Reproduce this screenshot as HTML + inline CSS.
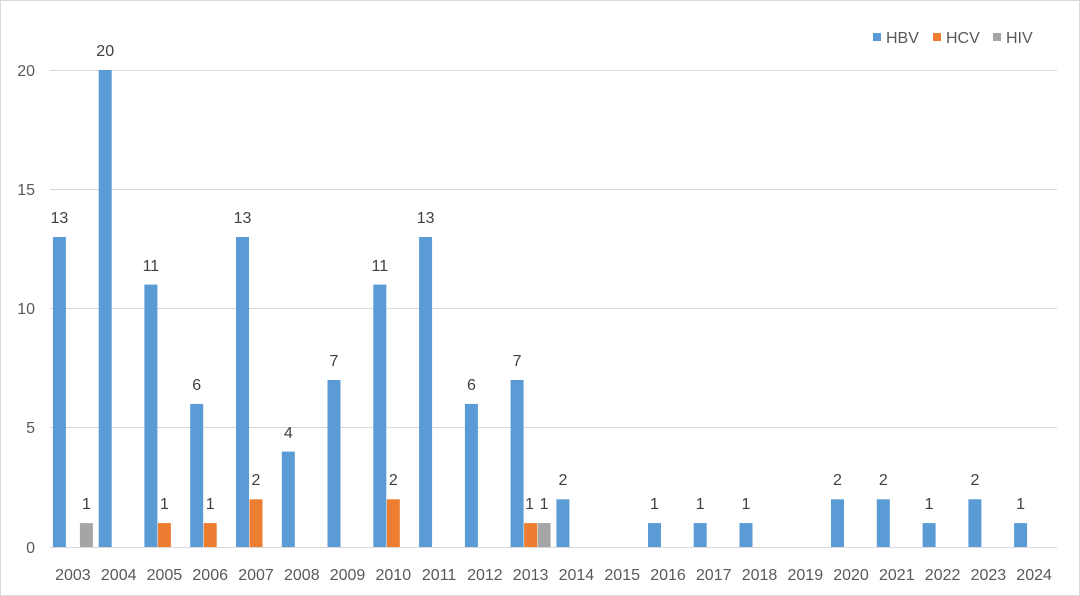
<!DOCTYPE html>
<html><head><meta charset="utf-8"><style>
body{margin:0;background:#fff}
svg{display:block;font-family:"Liberation Sans",sans-serif}
</style></head><body>
<svg width="1080" height="596" viewBox="0 0 1080 596" xmlns="http://www.w3.org/2000/svg">
<rect x="0.5" y="0.5" width="1079" height="595" fill="#fff" stroke="#d9d9d9"/>
<g stroke="#d9d9d9" stroke-width="1">
<line x1="50" y1="70.5" x2="1057" y2="70.5"/>
<line x1="50" y1="189.5" x2="1057" y2="189.5"/>
<line x1="50" y1="308.5" x2="1057" y2="308.5"/>
<line x1="50" y1="427.5" x2="1057" y2="427.5"/>
<line x1="50" y1="547.5" x2="1057" y2="547.5"/>
</g>
<g font-size="16" fill="#595959" text-anchor="end">
<text x="35" y="76">20</text><text x="35" y="195">15</text><text x="35" y="314">10</text><text x="35" y="433">5</text><text x="35" y="553">0</text>
</g>
<g fill="#5b9bd5">
<rect x="52.9" y="237" width="13" height="310"/>
<rect x="98.7" y="70" width="13" height="477"/>
<rect x="144.4" y="284.6" width="13" height="262.4"/>
<rect x="190.2" y="403.9" width="13" height="143.1"/>
<rect x="236" y="237" width="13" height="310"/>
<rect x="281.8" y="451.6" width="13" height="95.4"/>
<rect x="327.5" y="380" width="13" height="167"/>
<rect x="373.3" y="284.6" width="13" height="262.4"/>
<rect x="419.1" y="237" width="13" height="310"/>
<rect x="464.9" y="403.9" width="13" height="143.1"/>
<rect x="510.6" y="380" width="13" height="167"/>
<rect x="556.4" y="499.3" width="13" height="47.7"/>
<rect x="648" y="523.1" width="13" height="23.9"/>
<rect x="693.7" y="523.1" width="13" height="23.9"/>
<rect x="739.5" y="523.1" width="13" height="23.9"/>
<rect x="831" y="499.3" width="13" height="47.7"/>
<rect x="876.8" y="499.3" width="13" height="47.7"/>
<rect x="922.6" y="523.1" width="13" height="23.9"/>
<rect x="968.4" y="499.3" width="13" height="47.7"/>
<rect x="1014.1" y="523.1" width="13" height="23.9"/>
</g>
<g fill="#ed7d31">
<rect x="157.9" y="523.1" width="13" height="23.9"/>
<rect x="203.7" y="523.1" width="13" height="23.9"/>
<rect x="249.5" y="499.3" width="13" height="47.7"/>
<rect x="386.8" y="499.3" width="13" height="47.7"/>
<rect x="524.1" y="523.1" width="13" height="23.9"/>
</g>
<g fill="#a5a5a5">
<rect x="79.9" y="523.1" width="13" height="23.9"/>
<rect x="537.6" y="523.1" width="13" height="23.9"/>
</g>
<g font-size="16" fill="#404040" text-anchor="middle">
<text x="59.4" y="223">13</text>
<text x="105.2" y="56">20</text>
<text x="150.9" y="271">11</text>
<text x="196.7" y="390">6</text>
<text x="242.5" y="223">13</text>
<text x="288.3" y="438">4</text>
<text x="334" y="366">7</text>
<text x="379.8" y="271">11</text>
<text x="425.6" y="223">13</text>
<text x="471.4" y="390">6</text>
<text x="517.1" y="366">7</text>
<text x="562.9" y="485">2</text>
<text x="654.5" y="509">1</text>
<text x="700.2" y="509">1</text>
<text x="746" y="509">1</text>
<text x="837.5" y="485">2</text>
<text x="883.3" y="485">2</text>
<text x="929.1" y="509">1</text>
<text x="974.9" y="485">2</text>
<text x="1020.6" y="509">1</text>
<text x="164.4" y="509">1</text>
<text x="210.2" y="509">1</text>
<text x="256" y="485">2</text>
<text x="393.3" y="485">2</text>
<text x="529.6" y="509">1</text>
<text x="544.1" y="509">1</text>
<text x="86.4" y="509">1</text>
</g>
<g font-size="16" fill="#595959" text-anchor="middle">
<text x="72.9" y="580">2003</text><text x="118.7" y="580">2004</text><text x="164.4" y="580">2005</text><text x="210.2" y="580">2006</text><text x="256" y="580">2007</text><text x="301.8" y="580">2008</text><text x="347.5" y="580">2009</text><text x="393.3" y="580">2010</text><text x="439.1" y="580">2011</text><text x="484.9" y="580">2012</text><text x="530.6" y="580">2013</text><text x="576.4" y="580">2014</text><text x="622.2" y="580">2015</text><text x="668" y="580">2016</text><text x="713.7" y="580">2017</text><text x="759.5" y="580">2018</text><text x="805.3" y="580">2019</text><text x="851" y="580">2020</text><text x="896.8" y="580">2021</text><text x="942.6" y="580">2022</text><text x="988.4" y="580">2023</text><text x="1034.1" y="580">2024</text>
</g>
<g font-size="16" fill="#595959">
<rect x="873" y="33" width="8" height="8" fill="#5b9bd5"/><text x="886" y="43">HBV</text>
<rect x="933" y="33" width="8" height="8" fill="#ed7d31"/><text x="946" y="43">HCV</text>
<rect x="993" y="33" width="8" height="8" fill="#a5a5a5"/><text x="1006" y="43">HIV</text>
</g>
</svg>
</body></html>
